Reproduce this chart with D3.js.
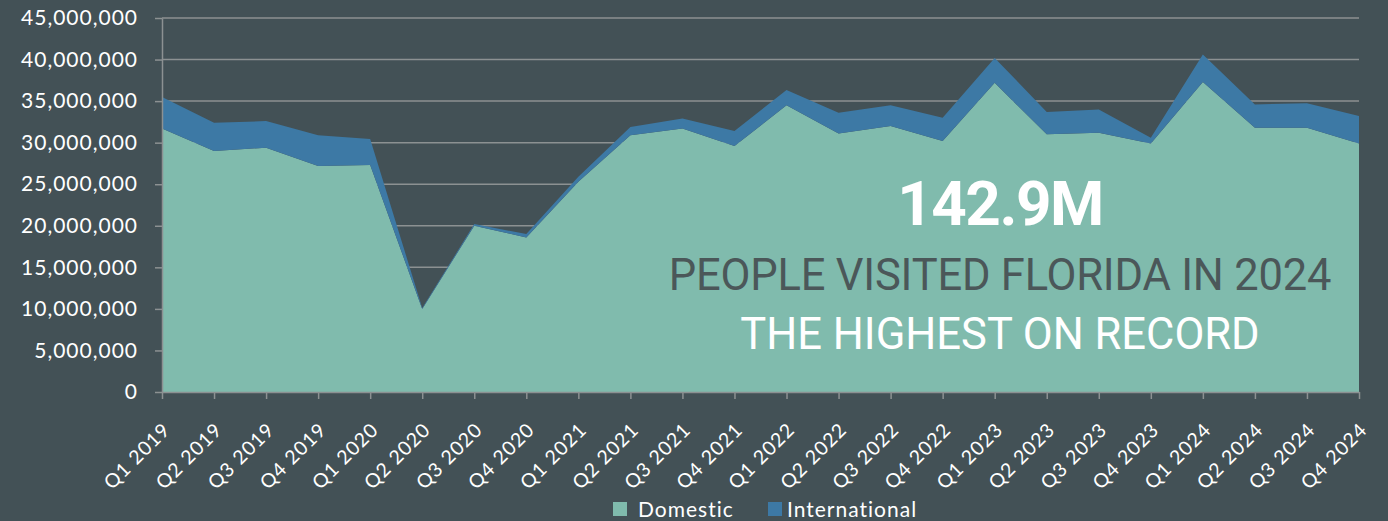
<!DOCTYPE html>
<html>
<head>
<meta charset="utf-8">
<script src="https://cdn.jsdelivr.net/npm/d3@7"></script>
<style>
  html, body { margin: 0; padding: 0; background: #435156; }
  svg { display: block; }
</style>
</head>
<body>
<div class="container"></div>
<script>
// quarterly visitors to Florida
const quarters = [
  "Q1 2019", "Q2 2019", "Q3 2019", "Q4 2019",
  "Q1 2020", "Q2 2020", "Q3 2020", "Q4 2020",
  "Q1 2021", "Q2 2021", "Q3 2021", "Q4 2021",
  "Q1 2022", "Q2 2022", "Q3 2022", "Q4 2022",
  "Q1 2023", "Q2 2023", "Q3 2023", "Q4 2023",
  "Q1 2024", "Q2 2024", "Q3 2024", "Q4 2024"
];
const domestic = [
  31700000, 29000000, 29400000, 27200000,
  27300000, 10000000, 20000000, 18600000,
  25300000, 30900000, 31700000, 29600000,
  34500000, 31100000, 32000000, 30200000,
  37200000, 31000000, 31200000, 29900000,
  37300000, 31800000, 31800000, 29900000
];
const international = [
  3800000, 3400000, 3200000, 3700000,
  3150000, 100000, 200000, 400000,
  600000, 1000000, 1200000, 1800000,
  1850000, 2500000, 2500000, 2800000,
  3000000, 2700000, 2800000, 700000,
  3300000, 2800000, 2950000, 3300000
];
const yTicks = [0, 5000000, 10000000, 15000000, 20000000, 25000000, 30000000, 35000000, 40000000, 45000000];
const seriesNames = ["Domestic", "International"];

const domestic_green = "#80bbad";
const intl_blue = "#3d79a5";
const grid_gray = "#8c9192";

const width = 1388;
const height = 521;
const margin = {top: 18, right: 29, bottom: 129, left: 162};

const svg = d3.select(".container")
              .append("svg")
              .attr("width", width)
              .attr("height", height);

const x = d3.scalePoint()
            .domain(quarters)
            .range([margin.left, width - margin.right]);

const y = d3.scaleLinear()
            .domain([0, 45000000])
            .range([height - margin.bottom, margin.top]);

// gridlines first so the areas cover them
svg.append("g")
   .selectAll("line")
   .data(yTicks.slice(1))
   .enter()
   .append("line")
   .attr("x1", margin.left)
   .attr("x2", width - margin.right)
   .attr("y1", d => y(d))
   .attr("y2", d => y(d))
   .style("stroke", grid_gray)
   .style("stroke-width", 1.5);

// stack domestic + international
const table = quarters.map((q, i) => ({q: q, Domestic: domestic[i], International: international[i]}));
const stacked = d3.stack().keys(seriesNames)(table);

const area = d3.area()
               .x(d => x(d.data.q))
               .y0(d => y(d[0]))
               .y1(d => y(d[1]));

svg.append("g")
   .selectAll("path")
   .data(stacked)
   .enter()
   .append("path")
   .attr("d", area)
   .attr("fill", (d, i) => i === 0 ? domestic_green : intl_blue);

// y axis
const yAxis = d3.axisLeft(y)
                .tickValues(yTicks)
                .tickFormat(d3.format(","))
                .tickSize(7)
                .tickSizeOuter(0)
                .tickPadding(17);

const yg = svg.append("g")
   .attr("transform", "translate(" + margin.left + ",0)")
   .call(yAxis);
yg.selectAll("line").style("stroke", grid_gray).style("stroke-width", 1.5);
yg.select(".domain").style("stroke", grid_gray).style("stroke-width", 1.5);
yg.selectAll("text")
  .style("fill", "#ffffff")
  .style("font-family", "Lato, sans-serif")
  .style("font-size", "21px")
  .style("letter-spacing", "1px");

// x axis
const xAxis = d3.axisBottom(x).tickSize(7).tickSizeOuter(0);
const xg = svg.append("g")
   .attr("transform", "translate(0," + (height - margin.bottom) + ")")
   .call(xAxis);
xg.selectAll("line").style("stroke", grid_gray).style("stroke-width", 1.5);
xg.select(".domain").style("stroke", grid_gray).style("stroke-width", 1.5);
xg.selectAll("text")
  .style("fill", "#ffffff")
  .style("font-family", "Lato, sans-serif")
  .style("font-size", "19.5px")
  .style("letter-spacing", "1px")
  .attr("text-anchor", "end")
  .attr("dy", "0")
  .attr("y", 0)
  .attr("transform", "translate(9,39) rotate(-45)");

// callout text
const note = svg.append("g").attr("text-anchor", "middle");
note.append("text")
    .attr("x", 1000)
    .attr("y", 225)
    .style("fill", "#ffffff")
    .style("font-family", "Roboto, sans-serif")
    .style("font-weight", "bold")
    .style("font-size", "62px")
    .style("letter-spacing", "-1.5px")
    .text("142.9M");
note.append("text")
    .attr("x", 1000)
    .attr("y", 290)
    .style("fill", "#4b5759")
    .style("font-family", "Roboto, sans-serif")
    .style("font-size", "43.5px")
    .style("letter-spacing", "-0.2px")
    .text("PEOPLE VISITED FLORIDA IN 2024");
note.append("text")
    .attr("x", 1000)
    .attr("y", 349)
    .style("fill", "#ffffff")
    .style("font-family", "Roboto, sans-serif")
    .style("font-size", "43.5px")
    .text("THE HIGHEST ON RECORD");

// legend
const legendX = [613, 768];
const legend = svg.append("g").attr("id", "legend");
seriesNames.forEach((name, i) => {
  legend.append("rect")
        .attr("x", legendX[i])
        .attr("y", 502)
        .attr("width", 14)
        .attr("height", 14)
        .attr("fill", i === 0 ? domestic_green : intl_blue);
  legend.append("text")
        .attr("x", legendX[i] + (i === 0 ? 25 : 19))
        .attr("y", 517)
        .style("fill", "#ffffff")
        .style("font-family", "Lato, sans-serif")
        .style("font-size", "21px")
        .style("letter-spacing", "1px")
        .text(name);
});
</script>
</body>
</html>
